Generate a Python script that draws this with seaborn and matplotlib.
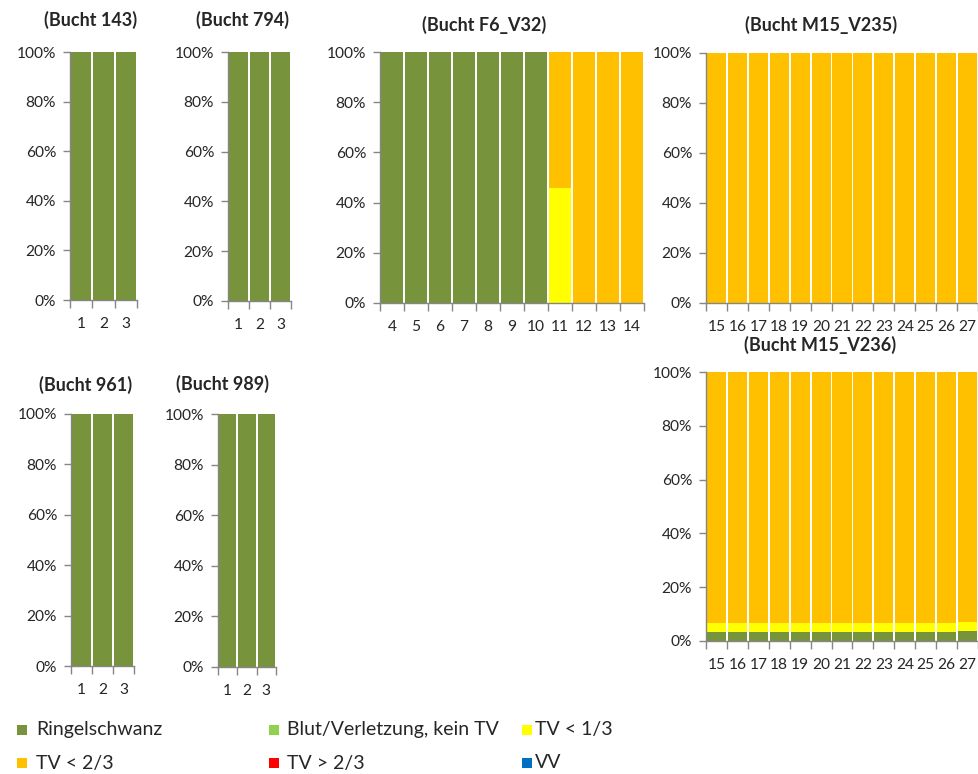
import matplotlib
matplotlib.use("Agg")
import matplotlib.pyplot as plt
from matplotlib.patches import Rectangle
from matplotlib.ticker import FixedLocator, FuncFormatter
import numpy as np
import pandas as pd
import seaborn as sns

sns.set_style("white")
plt.rcParams['font.family'] = ['Lato', 'DejaVu Sans']

# ---- data ----
categories = ["Ringelschwanz", "Blut/Verletzung, kein TV", "TV < 1/3",
              "TV < 2/3", "TV > 2/3", "VV"]
colors = ["#77933C", "#92D050", "#FFFF00", "#FFC000", "#FF0000", "#0070C0"]

days_143 = [1, 2, 3]
ringel_143 = [100, 100, 100]

days_794 = [1, 2, 3]
ringel_794 = [100, 100, 100]

days_961 = [1, 2, 3]
ringel_961 = [100, 100, 100]

days_989 = [1, 2, 3]
ringel_989 = [100, 100, 100]

days_f6 = [4, 5, 6, 7, 8, 9, 10, 11, 12, 13, 14]
ringel_f6 = [100, 100, 100, 100, 100, 100, 100, 0, 0, 0, 0]
tv13_f6 = [0, 0, 0, 0, 0, 0, 0, 46, 0, 0, 0]
tv23_f6 = [0, 0, 0, 0, 0, 0, 0, 54, 100, 100, 100]

days_m235 = [15, 16, 17, 18, 19, 20, 21, 22, 23, 24, 25, 26, 27]
tv23_m235 = [100, 100, 100, 100, 100, 100, 100, 100, 100, 100, 100, 100, 100]

days_m236 = [15, 16, 17, 18, 19, 20, 21, 22, 23, 24, 25, 26, 27]
ringel_m236 = [3.3, 3.3, 3.3, 3.3, 3.3, 3.3, 3.3, 3.3, 3.3, 3.3, 3.3, 3.3, 3.6]
tv13_m236 = [3.3, 3.3, 3.3, 3.3, 3.3, 3.3, 3.3, 3.3, 3.3, 3.3, 3.3, 3.3, 3.6]
tv23_m236 = [93.4, 93.4, 93.4, 93.4, 93.4, 93.4, 93.4, 93.4, 93.4, 93.4, 93.4, 93.4, 92.8]

W, H = 979, 774
fig = plt.figure(figsize=(W / 100, H / 100), dpi=100)

GRAY = "#868686"
TXT = "#262626"
TICK_FS = 11.2


def make_ax(x0, x1, y0, y1):
    return fig.add_axes([x0 / W, 1 - y1 / H, (x1 - x0) / W, (y1 - y0) / H])


def panel(rect, days, layers, title, title_xy):
    ax = make_ax(*rect)
    n = len(days)
    labels = [str(d) for d in days]
    vals = np.array([np.asarray(l, dtype=float) for l in layers])
    cum = np.cumsum(vals, axis=0)
    # draw from top layer down so lower layers overlay
    for i in range(len(layers) - 1, -1, -1):
        h = np.where(vals[i] > 0, cum[i], 0.0)
        if not np.any(h > 0):
            continue
        df = pd.DataFrame({"day": labels, "pct": h})
        sns.barplot(data=df, x="day", y="pct", order=labels, color=colors[i],
                    saturation=1, width=0.91, errorbar=None, ax=ax,
                    linewidth=0)
    ax.set_xlim(-0.5, n - 0.5)
    ax.set_ylim(0, 100)
    ax.set_xlabel("")
    ax.set_ylabel("")
    for s in ["top", "right"]:
        ax.spines[s].set_visible(False)
    for s in ["left", "bottom"]:
        ax.spines[s].set_color(GRAY)
        ax.spines[s].set_linewidth(1.0)
    ax.yaxis.set_major_locator(FixedLocator([0, 20, 40, 60, 80, 100]))
    ax.yaxis.set_major_formatter(FuncFormatter(lambda v, p: f"{int(v)}%"))
    ax.tick_params(axis="y", length=5, color=GRAY, width=1, direction="out",
                   left=True, labelsize=TICK_FS, labelcolor=TXT, pad=5)
    ax.set_xticks(range(n))
    ax.set_xticklabels(labels)
    ax.xaxis.set_minor_locator(FixedLocator(np.arange(n + 1) - 0.5))
    ax.tick_params(axis="x", which="major", length=0, labelsize=TICK_FS,
                   labelcolor=TXT, pad=12)
    ax.tick_params(axis="x", which="minor", length=6, color=GRAY, width=1,
                   direction="out", bottom=True)
    ax.set_facecolor("none")
    fig.text(title_xy[0] / W, 1 - title_xy[1] / H, title, ha="center",
             va="center", fontsize=13, fontweight="bold", color=TXT)
    return ax


zero3 = [0, 0, 0]
panel((70, 137, 52, 300), days_143,
      [ringel_143, zero3, zero3, zero3, zero3, zero3], "(Bucht 143)", (91, 20))
panel((228, 291, 52, 301), days_794,
      [ringel_794, zero3, zero3, zero3, zero3, zero3], "(Bucht 794)", (243, 20))
z11 = [0] * len(days_f6)
panel((380, 644, 52, 303), days_f6,
      [ringel_f6, z11, tv13_f6, tv23_f6, z11, z11], "(Bucht F6_V32)", (484, 25))
z13 = [0] * len(days_m235)
panel((706, 978, 53, 303), days_m235,
      [z13, z13, z13, tv23_m235, z13, z13], "(Bucht M15_V235)", (821, 25))
panel((71, 134, 414, 666), days_961,
      [ringel_961, zero3, zero3, zero3, zero3, zero3], "(Bucht 961)", (86, 385))
panel((218, 276, 414, 667), days_989,
      [ringel_989, zero3, zero3, zero3, zero3, zero3], "(Bucht 989)", (223, 384))
panel((706, 978, 372, 641), days_m236,
      [ringel_m236, z13, tv13_m236, tv23_m236, z13, z13], "(Bucht M15_V236)", (820, 345))

# legend (row-major, 3 columns x 2 rows), drawn in figure pixel coordinates
sq_x = [17, 269, 522]
txt_x = [36, 287, 535]
row_y = [730, 763]
SQ = 10
for k, (lab, col) in enumerate(zip(categories, colors)):
    r, c = divmod(k, 3)
    fig.add_artist(Rectangle((sq_x[c] / W, 1 - (row_y[r] + SQ / 2) / H),
                             SQ / W, SQ / H, transform=fig.transFigure,
                             facecolor=col, edgecolor="none"))
    fig.text(txt_x[c] / W, 1 - row_y[r] / H, lab, ha="left", va="center",
             fontsize=14, color=TXT)

fig.savefig("out.png", dpi=100, facecolor="white")
